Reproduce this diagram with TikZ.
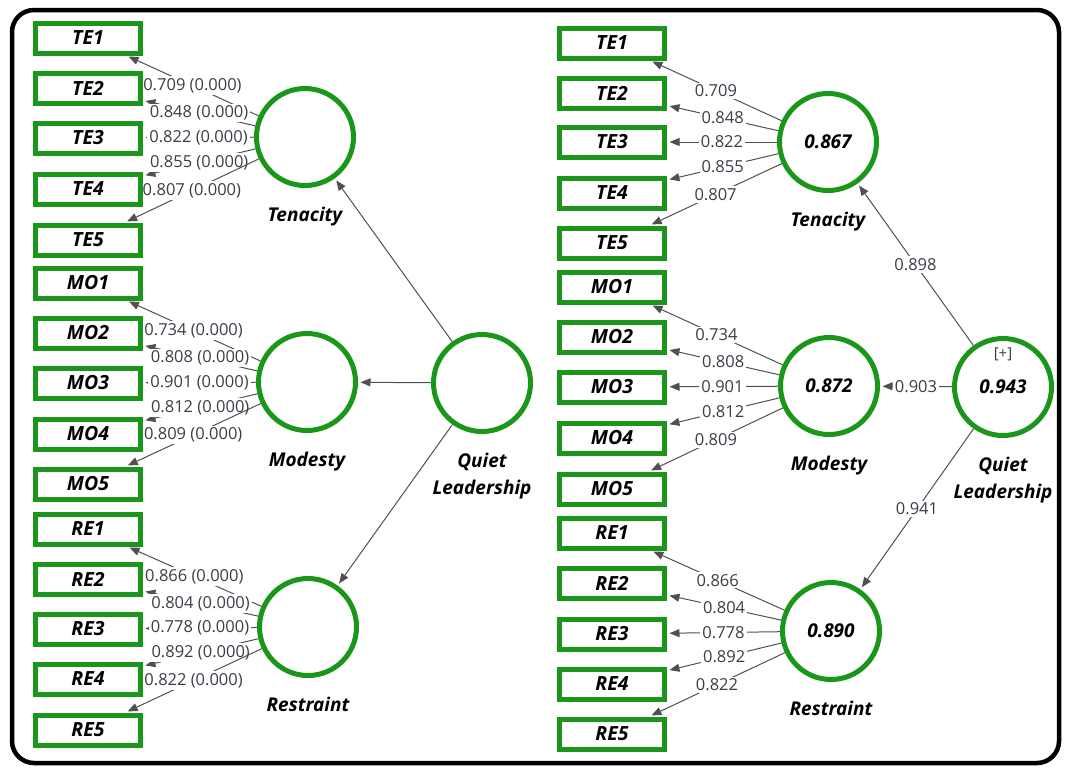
\documentclass[tikz,border=0pt]{standalone}
\usepackage{fontspec}
\setmainfont{Open Sans}
\usetikzlibrary{arrows.meta,positioning}
\definecolor{plsgreen}{RGB}{26,150,26}
\definecolor{arrgray}{RGB}{80,80,80}
\definecolor{ldgray}{RGB}{62,60,72}
\pgfdeclarelayer{bg}
\pgfsetlayers{bg,main}

\begin{document}
\begin{tikzpicture}[x=1pt,y=-1pt,>={Triangle[length=10pt,width=8pt]},
  ind/.style={draw=plsgreen,line width=5pt,minimum width=105pt,minimum height=30pt,
              inner sep=0pt,font=\fontsize{19.5}{20}\selectfont\bfseries\itshape},
  lv/.style={circle,draw=plsgreen,line width=5pt,minimum size=97pt,inner sep=0pt,
             font=\fontsize{19}{20}\selectfont\bfseries\itshape},
  lvname/.style={inner sep=0pt,align=center,font=\fontsize{19}{27}\selectfont\bfseries\itshape},
  ld/.style={->,arrgray,line width=1pt,shorten >=2.5pt},
  ldlab/.style={fill=white,text=ldgray,inner sep=2pt,font=\fontsize{16.5}{18}\selectfont}]

  \useasboundingbox (0,0) rectangle (1065,769);

  % ── frame ────────────────────────────────────────────────────────
  \draw[line width=4.5pt,rounded corners=22pt] (12,10) rectangle (1059,763);

  % ── left: loadings with p-values ─────────────────────────────────
  % indicators
  \node[ind] (lTE1) at (88,38)  {TE1};
  \node[ind] (lTE2) at (88,88)  {TE2};
  \node[ind] (lTE3) at (88,138) {TE3};
  \node[ind] (lTE4) at (88,189) {TE4};
  \node[ind] (lTE5) at (88,240) {TE5};
  \node[ind] (lMO1) at (88,283) {MO1};
  \node[ind] (lMO2) at (88,333) {MO2};
  \node[ind] (lMO3) at (88,383) {MO3};
  \node[ind] (lMO4) at (88,434) {MO4};
  \node[ind] (lMO5) at (88,484) {MO5};
  \node[ind] (lRE1) at (88,529) {RE1};
  \node[ind] (lRE2) at (88,579) {RE2};
  \node[ind] (lRE3) at (88,629) {RE3};
  \node[ind] (lRE4) at (88,679) {RE4};
  \node[ind] (lRE5) at (88,730) {RE5};

  % constructs
  \node[lv] (lTen) at (305,137) {};
  \node[lv] (lMod) at (307,382) {};
  \node[lv] (lRes) at (308,627) {};
  \node[lv] (lQL)  at (482,383) {};
  \node[lvname,below=19pt of lTen] (lTenName) {Tenacity};
  \node[lvname,below=19pt of lMod] (lModName) {Modesty};
  \node[lvname,below=19pt of lRes] (lResName) {Restraint};
  \node[lvname,below=19pt of lQL]  (lQLName)  {Quiet\\Leadership};

  \begin{pgfonlayer}{bg}
    \draw[ld] (lTen)--(lTE1) node[ldlab,midway]{0.709 (0.000)};
    \draw[ld] (lTen)--(lTE2) node[ldlab,midway]{0.848 (0.000)};
    \draw[ld] (lTen)--(lTE3) node[ldlab,midway]{0.822 (0.000)};
    \draw[ld] (lTen)--(lTE4) node[ldlab,midway]{0.855 (0.000)};
    \draw[ld] (lTen)--(lTE5) node[ldlab,midway]{0.807 (0.000)};

    \draw[ld] (lMod)--(lMO1) node[ldlab,midway]{0.734 (0.000)};
    \draw[ld] (lMod)--(lMO2) node[ldlab,midway]{0.808 (0.000)};
    \draw[ld] (lMod)--(lMO3) node[ldlab,midway]{0.901 (0.000)};
    \draw[ld] (lMod)--(lMO4) node[ldlab,midway]{0.812 (0.000)};
    \draw[ld] (lMod)--(lMO5) node[ldlab,midway]{0.809 (0.000)};

    \draw[ld] (lRes)--(lRE1) node[ldlab,midway]{0.866 (0.000)};
    \draw[ld] (lRes)--(lRE2) node[ldlab,midway]{0.804 (0.000)};
    \draw[ld] (lRes)--(lRE3) node[ldlab,midway]{0.778 (0.000)};
    \draw[ld] (lRes)--(lRE4) node[ldlab,midway]{0.892 (0.000)};
    \draw[ld] (lRes)--(lRE5) node[ldlab,midway]{0.822 (0.000)};

    % paths
    \draw[ld] (lQL)--(lTen);
    \draw[ld] (lQL)--(lMod);
    \draw[ld] (lQL)--(lRes);
  \end{pgfonlayer}

  % ── right: loadings, paths and R^2 ───────────────────────────────
  % indicators
  \node[ind] (rTE1) at (612,43)  {TE1};
  \node[ind] (rTE2) at (612,93)  {TE2};
  \node[ind] (rTE3) at (612,142) {TE3};
  \node[ind] (rTE4) at (612,193) {TE4};
  \node[ind] (rTE5) at (612,243) {TE5};
  \node[ind] (rMO1) at (612,287) {MO1};
  \node[ind] (rMO2) at (612,337) {MO2};
  \node[ind] (rMO3) at (612,387) {MO3};
  \node[ind] (rMO4) at (612,438) {MO4};
  \node[ind] (rMO5) at (612,489) {MO5};
  \node[ind] (rRE1) at (612,533) {RE1};
  \node[ind] (rRE2) at (612,583) {RE2};
  \node[ind] (rRE3) at (612,634) {RE3};
  \node[ind] (rRE4) at (612,684) {RE4};
  \node[ind] (rRE5) at (612,734) {RE5};

  % constructs
  \node[lv] (rTen) at (828,142)  {0.867};
  \node[lv] (rMod) at (829,386)  {0.872};
  \node[lv] (rRes) at (831,631)  {0.890};
  \node[lv] (rQL)  at (1003,387) {0.943};
  \node[text=ldgray,font=\fontsize{15}{16}\selectfont] (rQLplus) at (1003,354) {[+]};
  \node[lvname,below=19pt of rTen] (rTenName) {Tenacity};
  \node[lvname,below=19pt of rMod] (rModName) {Modesty};
  \node[lvname,below=19pt of rRes] (rResName) {Restraint};
  \node[lvname,below=19pt of rQL]  (rQLName)  {Quiet\\Leadership};

  \begin{pgfonlayer}{bg}
    \draw[ld] (rTen)--(rTE1) node[ldlab,midway]{0.709};
    \draw[ld] (rTen)--(rTE2) node[ldlab,midway]{0.848};
    \draw[ld] (rTen)--(rTE3) node[ldlab,midway]{0.822};
    \draw[ld] (rTen)--(rTE4) node[ldlab,midway]{0.855};
    \draw[ld] (rTen)--(rTE5) node[ldlab,midway]{0.807};

    \draw[ld] (rMod)--(rMO1) node[ldlab,midway]{0.734};
    \draw[ld] (rMod)--(rMO2) node[ldlab,midway]{0.808};
    \draw[ld] (rMod)--(rMO3) node[ldlab,midway]{0.901};
    \draw[ld] (rMod)--(rMO4) node[ldlab,midway]{0.812};
    \draw[ld] (rMod)--(rMO5) node[ldlab,midway]{0.809};

    \draw[ld] (rRes)--(rRE1) node[ldlab,midway]{0.866};
    \draw[ld] (rRes)--(rRE2) node[ldlab,midway]{0.804};
    \draw[ld] (rRes)--(rRE3) node[ldlab,midway]{0.778};
    \draw[ld] (rRes)--(rRE4) node[ldlab,midway]{0.892};
    \draw[ld] (rRes)--(rRE5) node[ldlab,midway]{0.822};

    % paths
    \draw[ld] (rQL)--(rTen) node[ldlab,midway]{0.898};
    \draw[ld] (rQL)--(rMod) node[ldlab,midway]{0.903};
    \draw[ld] (rQL)--(rRes) node[ldlab,midway]{0.941};
  \end{pgfonlayer}

\end{tikzpicture}
\end{document}
